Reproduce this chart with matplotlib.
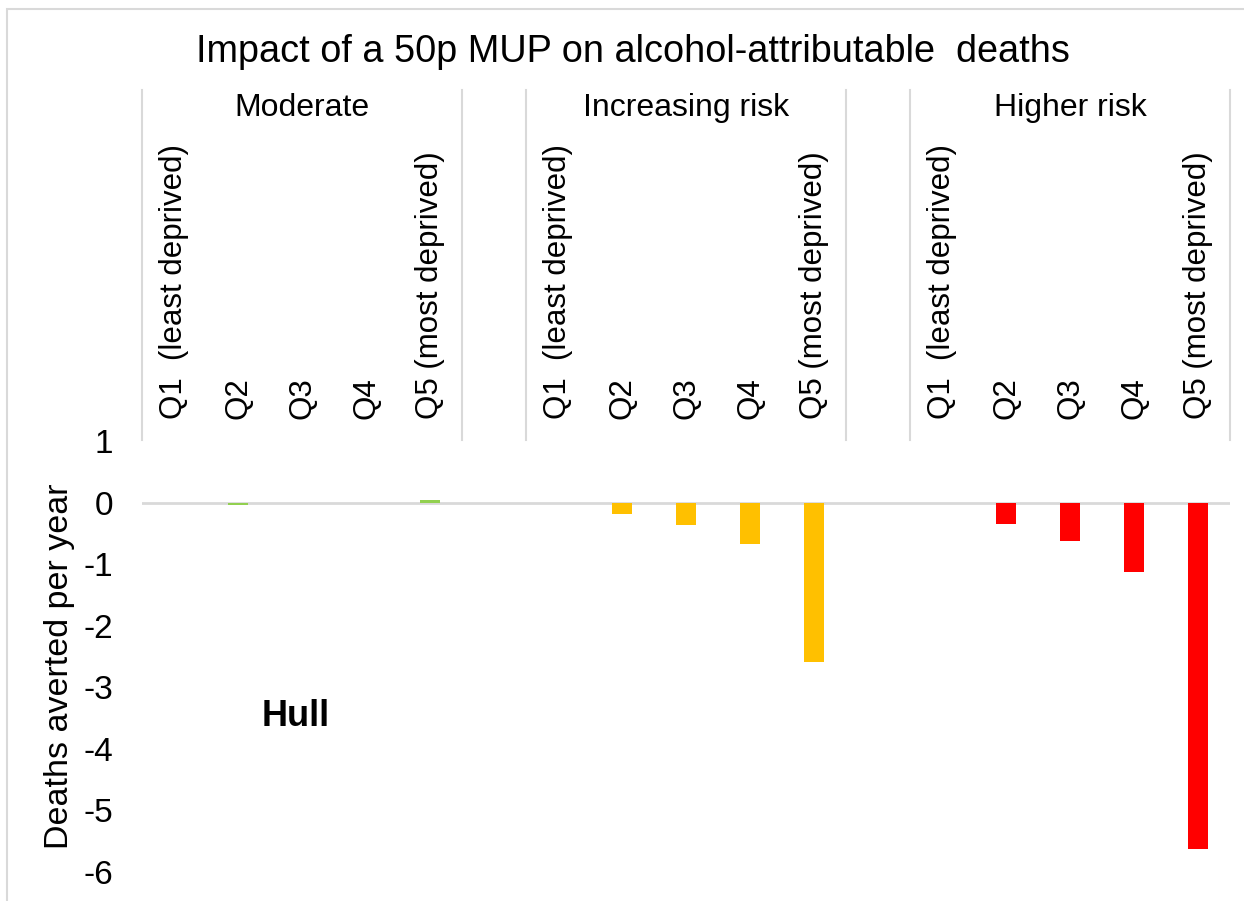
import matplotlib
matplotlib.use("Agg")
import matplotlib.pyplot as plt
from matplotlib.patches import Rectangle
from matplotlib.lines import Line2D
import matplotlib.transforms as mtransforms

plt.rcParams['font.family'] = ['Liberation Sans', 'DejaVu Sans']

# data
groups = ['Moderate', 'Increasing risk', 'Higher risk']
quintiles = ['Q1  (least deprived)', 'Q2', 'Q3', 'Q4', 'Q5 (most deprived)']
moderate = [0.0, -0.045, -0.006, -0.006, 0.04]
increasing = [0.0, -0.18, -0.37, -0.67, -2.59]
higher = [0.0, -0.34, -0.63, -1.12, -5.63]
colours = ['#92D050', '#FFC000', '#FF0000']

W, H = 1244, 901
fig = plt.figure(figsize=(W / 100, H / 100), dpi=100)

def fx(px):
    return px / W

def fy(py):
    return 1 - py / H

# outer chart border (cropped on right/bottom)
fig.patches.append(Rectangle((fx(7), fy(H + 20)), 1.2, fy(9) - fy(H + 20),
                             transform=fig.transFigure, fill=False,
                             edgecolor='#D9D9D9', linewidth=1.5))

ax = fig.add_axes([fx(142), fy(872), fx(1230) - fx(142), fy(441) - fy(872)])

series = [moderate, increasing, higher]
for g, vals in enumerate(series):
    xs = [g * 6 + i for i in range(5)]
    ax.bar(xs, vals, width=0.31, color=colours[g], zorder=3)

ax.set_xlim(-0.5, 16.5)
ax.set_ylim(-6, 1)
ax.axhline(0, color='#D9D9D9', linewidth=2, zorder=2)
ax.set_yticks(range(-6, 2))
ax.set_yticklabels([str(v) for v in range(-6, 2)], fontsize=24)
ax.tick_params(axis='y', length=0, pad=21)
ax.set_xticks([])
for s in ax.spines.values():
    s.set_visible(False)

fig.text(fx(60), fy(666), 'Deaths averted per year', rotation=90,
         ha='center', va='center', fontsize=24.5)

# category labels above plot
trans = mtransforms.blended_transform_factory(ax.transData, fig.transFigure)
for g, name in enumerate(groups):
    for i, q in enumerate(quintiles):
        ax.text(g * 6 + i, fy(419), q, rotation=90, ha='center', va='bottom',
                fontsize=22.5, transform=trans)
    ax.text(g * 6 + 2, fy(108), name, ha='center', va='center',
            fontsize=23, transform=trans)

for xb in [-0.5, 4.5, 5.5, 10.5, 11.5, 16.5]:
    ax.add_line(Line2D([xb, xb], [fy(90), fy(440)], transform=trans,
                       color='#D9D9D9', linewidth=1.5, clip_on=False))

fig.text(fx(633), fy(52), 'Impact of a 50p MUP on alcohol-attributable  deaths',
         ha='center', va='center', fontsize=27.3)
fig.text(fx(296), fy(716), 'Hull', ha='center', va='center',
         fontsize=26, fontweight='bold')

fig.savefig('out.png', dpi=100)
